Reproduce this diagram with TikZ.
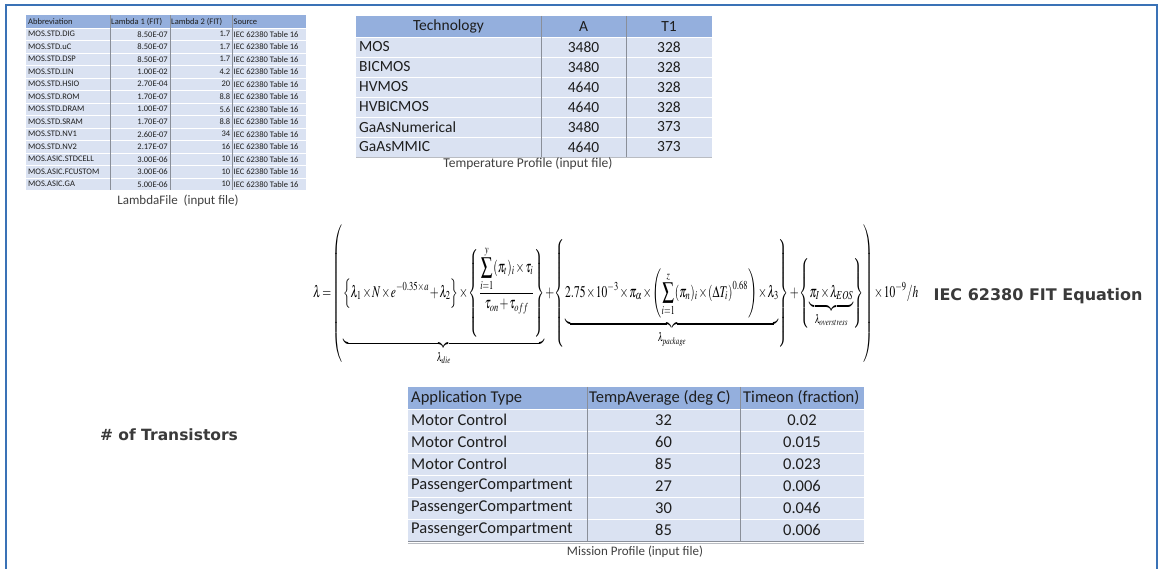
\documentclass[tikz,border=0pt]{standalone}
\usepackage{mathptmx}
\usepackage[no-math]{fontspec}
\setmainfont{Carlito}
\newfontfamily\headfont{DejaVu Sans}
\definecolor{framec}{HTML}{3A72B6}
\definecolor{headc}{HTML}{94AFDD}
\definecolor{bodyc}{HTML}{DAE2F2}
\definecolor{gridc}{HTML}{8A8F99}
\definecolor{txt}{HTML}{1E1E1E}
\definecolor{ttl}{HTML}{3A3A3A}
\tikzset{
  lamcell/.style={inner sep=0pt, text=txt, font=\fontsize{8.5}{9}\selectfont},
  tmpcell/.style={inner sep=0pt, text=txt, font=\fontsize{15.5}{16}\selectfont},
  miscell/.style={inner sep=0pt, text=txt, font=\fontsize{16.5}{17}\selectfont},
  caption/.style={inner sep=0pt, text=txt!85, font=\fontsize{13}{14}\selectfont},
  bigtitle/.style={inner sep=0pt, text=ttl, font=\headfont\bfseries\fontsize{16}{17}\selectfont},
  vline/.style={draw=gridc, line width=0.6pt},
  hline/.style={draw=white, line width=0.8pt},
}
\begin{document}
\begin{tikzpicture}[x=1pt,y=-1pt]
\useasboundingbox (0,0) rectangle (1160,569);
\fill[white] (0,0) rectangle (1160,569);

% outer frame (open at the bottom)
\draw[framec, line width=1.8pt] (6,569) -- (6,5) -- (1157,5) -- (1157,569);

% ---------------- LambdaFile table ----------------
\fill[headc] (26,15.5) rectangle (306,28);
\fill[bodyc] (26,28) rectangle (306,190.5);
\foreach \k in {1,...,13} \draw[hline] (26,{15.5+12.5*\k}) -- (306,{15.5+12.5*\k});
\foreach \xx in {110,170,232} \draw[vline] (\xx,15.5) -- (\xx,190.5);
\node[lamcell, anchor=west] (lamh1) at (28,21.75) {Abbreviation};
\node[lamcell, anchor=west] (lamh2) at (111,21.75) {Lambda 1 (FIT)};
\node[lamcell, anchor=west] (lamh3) at (171,21.75) {Lambda 2 (FIT)};
\node[lamcell, anchor=west] (lamh4) at (233.5,21.75) {Source};
\foreach \a/\b/\c [count=\r] in {
  MOS.STD.DIG/8.50E-07/1.7, MOS.STD.uC/8.50E-07/1.7, MOS.STD.DSP/8.50E-07/1.7,
  MOS.STD.LIN/1.00E-02/4.2, MOS.STD.HSIO/2.70E-04/20, MOS.STD.ROM/1.70E-07/8.8,
  MOS.STD.DRAM/1.00E-07/5.6, MOS.STD.SRAM/1.70E-07/8.8, MOS.STD.NV1/2.60E-07/34,
  MOS.STD.NV2/2.17E-07/16, MOS.ASIC.STDCELL/3.00E-06/10, MOS.ASIC.FCUSTOM/3.00E-06/10,
  MOS.ASIC.GA/5.00E-06/10} {
  \node[lamcell, anchor=west] (lam\r a) at (28,{21.75+12.5*\r}) {\a};
  \node[lamcell, anchor=east] (lam\r b) at (168,{21.75+12.5*\r}) {\b};
  \node[lamcell, anchor=east] (lam\r c) at (230.5,{21.75+12.5*\r}) {\c};
  \node[lamcell, anchor=west] (lam\r d) at (233.5,{21.75+12.5*\r}) {IEC 62380 Table 16};
}
\node[caption] (lamcap) at (178,201) {LambdaFile\ \ (input file)};

% ---------------- Temperature profile table ----------------
\fill[headc] (356,16) rectangle (712,37);
\fill[bodyc] (356,37) rectangle (712,157);
\foreach \k in {0,...,5} \draw[hline] (356,{37+20*\k}) -- (712,{37+20*\k});
\foreach \xx in {541,626} \draw[vline] (\xx,16) -- (\xx,157);
\draw[draw=gridc!60, line width=0.5pt] (356,157) -- (712,157);
\node[tmpcell] (tmph1) at (448.5,26.5) {Technology};
\node[tmpcell] (tmph2) at (583.5,26.5) {A};
\node[tmpcell] (tmph3) at (669,26.5) {T1};
\foreach \a/\b/\c [count=\r] in {MOS/3480/328, BICMOS/3480/328, HVMOS/4640/328,
  HVBICMOS/4640/328, GaAsNumerical/3480/373, GaAsMMIC/4640/373} {
  \node[tmpcell, anchor=west] (tmp\r a) at (359,{27+20*\r}) {\a};
  \node[tmpcell] (tmp\r b) at (583.5,{27+20*\r}) {\b};
  \node[tmpcell] (tmp\r c) at (669,{27+20*\r}) {\c};
}
\node[caption, font=\fontsize{13.5}{14}\selectfont] (tmpcap) at (528,164) {Temperature Profile (input file)};

% ---------------- Mission profile table ----------------
\fill[headc] (408,387) rectangle (864,409);
\fill[bodyc] (408,409) rectangle (864,541);
\foreach \k in {0,...,5} \draw[hline] (408,{409+22*\k}) -- (864,{409+22*\k});
\foreach \xx in {587,740} \draw[vline] (\xx,387) -- (\xx,541);
\draw[draw=gridc, line width=0.6pt] (408,541) -- (864,541);
\draw[draw=gridc!60, line width=0.5pt] (408,543) -- (864,543);
\node[miscell, anchor=west] (mish1) at (411,398) {Application Type};
\node[miscell, anchor=west] (mish2) at (589,398) {TempAverage (deg C)};
\node[miscell, anchor=west] (mish3) at (743,398) {Timeon (fraction)};
\foreach \a/\b/\c [count=\r] in {Motor Control/32/0.02, Motor Control/60/0.015,
  Motor Control/85/0.023, PassengerCompartment/27/0.006,
  PassengerCompartment/30/0.046, PassengerCompartment/85/0.006} {
  \node[miscell, anchor=west] (mis\r a) at (411,{398+22*\r}) {\a};
  \node[miscell] (mis\r b) at (663.5,{398+22*\r}) {\b};
  \node[miscell] (mis\r c) at (802,{398+22*\r}) {\c};
}
\node[caption] (miscap) at (635,552) {Mission Profile (input file)};

% ---------------- FIT equation ----------------
\node[inner sep=0pt, anchor=west] (eq) at (313,295) {\resizebox*{605pt}{141pt}{%
\thinmuskip=1mu \medmuskip=1.2mu \thickmuskip=2.5mu
$\displaystyle
\lambda=\left(
\underbrace{\left\{\lambda_1\times N\times e^{-0.35\times a}+\lambda_2\right\}\times
\left\{\frac{\displaystyle\sum_{i=1}^{y}(\pi_t)_i\times\tau_i}{\tau_{on}+\tau_{off}}\right\}}_{\lambda_{die}}
+\left\{\underbrace{2.75\times10^{-3}\times\pi_\alpha\times
\left(\sum_{i=1}^{z}(\pi_n)_i\times\left(\Delta T_i\right)^{0.68}\right)\times\lambda_3}_{\lambda_{package}}\right\}
+\left\{\underbrace{\pi_I\times\lambda_{EOS}}_{\lambda_{overstress}}\right\}
\right)\times10^{-9}/h$}};

\node[bigtitle] (eqtitle) at (1038,296) {IEC 62380 FIT Equation};
\node[bigtitle, font=\headfont\bfseries\fontsize{15.5}{16}\selectfont] (trans) at (169,435) {\# of Transistors};
\end{tikzpicture}
\end{document}
